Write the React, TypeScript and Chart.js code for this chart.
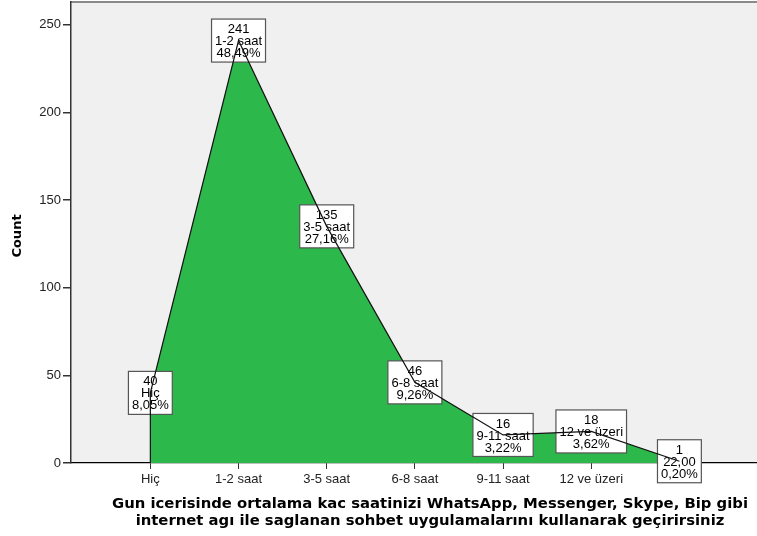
import React, { useEffect, useRef } from "react";
import { Chart, registerables } from "chart.js";

Chart.register(...registerables);

const categories = ["Hiç", "1-2 saat", "3-5 saat", "6-8 saat", "9-11 saat", "12 ve üzeri", "22,00"];
const tickLabels = ["Hiç", "1-2 saat", "3-5 saat", "6-8 saat", "9-11 saat", "12 ve üzeri", ""];
const counts = [40, 241, 135, 46, 16, 18, 1];
const yTicks = [0, 50, 100, 150, 200, 250];
const titleLines = [
  "Gun icerisinde ortalama kac saatinizi WhatsApp, Messenger, Skype, Bip gibi",
  "internet agı ile saglanan sohbet uygulamalarını kullanarak geçirirsiniz",
];

const total = counts.reduce((a, b) => a + b, 0);
const percents = counts.map((c) => (c / total * 100).toFixed(2).replace(".", ",") + "%");

const FONT = "'Liberation Sans', Arial, sans-serif";
const TITLE_FONT = "'DejaVu Sans', Verdana, sans-serif";
const GREEN = "#2db84b";

const bgPlugin = {
  id: "bgPlugin",
  beforeDraw(chart: any) {
    const { ctx, chartArea: a } = chart;
    ctx.save();
    ctx.fillStyle = "#ffffff";
    ctx.fillRect(0, 0, chart.width, chart.height);
    ctx.fillStyle = "#f0f0f0";
    ctx.fillRect(a.left, a.top, a.right - a.left, a.bottom - a.top);
    ctx.strokeStyle = "#8a8a8a";
    ctx.lineWidth = 2;
    ctx.beginPath();
    ctx.moveTo(a.left, a.top);
    ctx.lineTo(a.right, a.top);
    ctx.stroke();
    ctx.restore();
  },
  afterDraw(chart: any) {
    const { ctx } = chart;
    ctx.save();
    ctx.fillStyle = "#000";
    ctx.font = `bold 13px ${TITLE_FONT}`;
    ctx.textAlign = "center";
    ctx.textBaseline = "middle";
    ctx.translate(18, 236);
    ctx.rotate(-Math.PI / 2);
    ctx.fillText("Count", 0, 0);
    ctx.restore();
    ctx.save();
    ctx.fillStyle = "#000";
    ctx.font = `bold 14px ${TITLE_FONT}`;
    ctx.textAlign = "center";
    ctx.textBaseline = "middle";
    const sx = 636 / ctx.measureText(titleLines[0]).width;
    ctx.translate(430, 0);
    ctx.scale(sx, 1);
    ctx.fillText(titleLines[0], 0, 504);
    ctx.fillText(titleLines[1], 0, 521);
    ctx.restore();
  },
};

const boxPlugin = {
  id: "boxPlugin",
  afterDatasetDraw(chart: any, args: any) {
    if (args.index !== 1) return;
    const { ctx } = chart;
    const meta = chart.getDatasetMeta(1);
    ctx.save();
    ctx.font = `13px ${FONT}`;
    ctx.textAlign = "center";
    ctx.textBaseline = "middle";
    meta.data.forEach((pt: any, i: number) => {
      const lines = [String(counts[i]), categories[i], percents[i]];
      const w = Math.max(...lines.map((l) => ctx.measureText(l).width)) + 7;
      const lh = 12;
      const h = 43;
      const x = pt.x;
      const y = pt.y;
      ctx.fillStyle = "#ffffff";
      ctx.fillRect(x - w / 2, y - h / 2, w, h);
      ctx.strokeStyle = "#555";
      ctx.lineWidth = 1.2;
      ctx.strokeRect(x - w / 2, y - h / 2, w, h);
      ctx.fillStyle = "#000";
      lines.forEach((l, k) => ctx.fillText(l, x, y + (k - 1) * lh + 1));
    });
    ctx.restore();
  },
};

export default function App() {
  const ref = useRef<HTMLCanvasElement>(null);
  useEffect(() => {
    if (!ref.current) return;
    const pts = counts.map((c, i) => ({ x: i, y: c }));
    const linePts = [{ x: 0, y: 0 }, ...pts];
    const chart = new Chart(ref.current, {
      type: "line",
      data: {
        datasets: [
          {
            data: linePts,
            borderColor: "#111",
            borderWidth: 1.2,
            fill: false,
            pointRadius: 0,
            tension: 0,
          },
          {
            data: pts,
            borderWidth: 0,
            borderColor: "rgba(0,0,0,0)",
            backgroundColor: GREEN,
            fill: "origin",
            pointRadius: 0,
            tension: 0,
          },
        ],
      } as any,
      options: {
        animation: false,
        responsive: false,
        maintainAspectRatio: false,
        layout: { padding: { top: 2, left: 0, right: 0, bottom: 0 } },
        plugins: { legend: { display: false }, tooltip: { enabled: false }, title: { display: false } },
        scales: {
          x: {
            type: "linear",
            min: -0.9,
            max: 6.88,
            afterFit: (s: any) => {
              s.height = 73;
              s.paddingLeft = 0;
              s.paddingRight = 0;
            },
            afterBuildTicks: (s: any) => {
              s.ticks = categories.map((_, i) => ({ value: i }));
            },
            ticks: {
              autoSkip: false,
              maxRotation: 0,
              padding: 3,
              color: "#222",
              font: { family: FONT, size: 13 },
              callback: (v: any) => tickLabels[v] ?? "",
            },
            grid: { drawOnChartArea: false, tickLength: 6, color: "#333", lineWidth: 1 },
            border: { color: "#000", width: 1.3 },
          },
          y: {
            type: "linear",
            min: 0,
            max: 263,
            afterFit: (s: any) => {
              s.width = 71;
              s.paddingTop = 0;
              s.paddingBottom = 0;
            },
            afterBuildTicks: (s: any) => {
              s.ticks = yTicks.map((v) => ({ value: v }));
            },
            ticks: {
              padding: 2,
              color: "#222",
              font: { family: FONT, size: 13 },
            },
            grid: { drawOnChartArea: false, tickLength: 8, color: "#333", lineWidth: 1.5 },
            border: { color: "#333", width: 1.5 },
          },
        },
      } as any,
      plugins: [bgPlugin, boxPlugin],
    });
    return () => chart.destroy();
  }, []);
  return (
    <div style={{ position: "absolute", left: 0, top: 0, width: 757, height: 536 }}>
      <canvas ref={ref} width={757} height={536} style={{ width: 757, height: 536 }} />
    </div>
  );
}
